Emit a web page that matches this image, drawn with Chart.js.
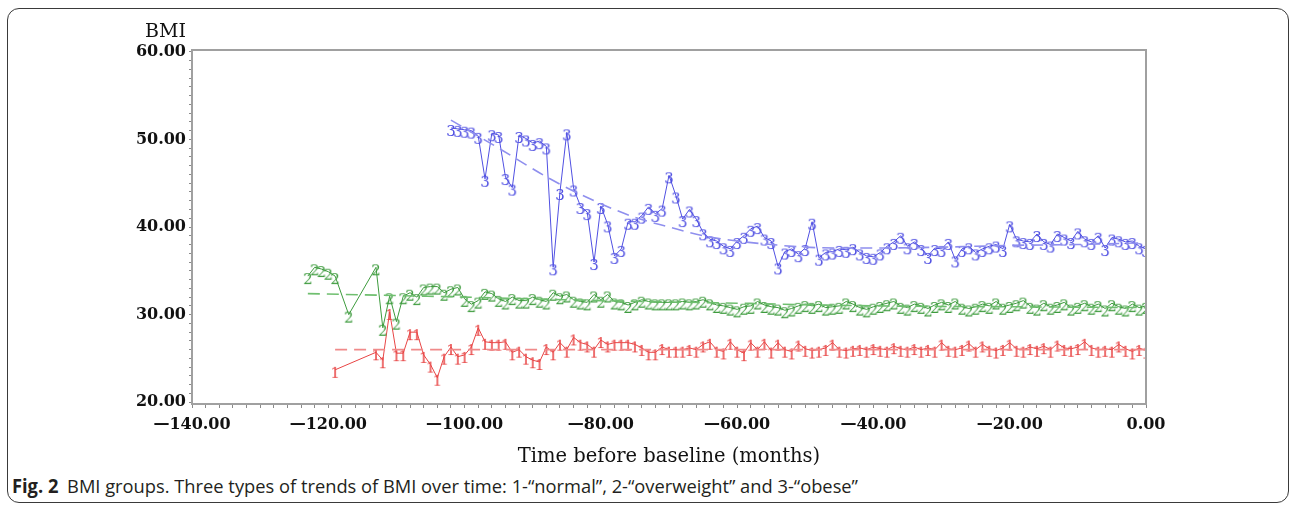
<!DOCTYPE html>
<html><head><meta charset="utf-8">
<script src="https://cdn.jsdelivr.net/npm/chart.js@4.4.1/dist/chart.umd.min.js"></script>
<style>
html,body{margin:0;padding:0;background:#fff;width:1290px;height:506px;overflow:hidden;}
#frame{position:absolute;left:7px;top:8px;width:1282px;height:495px;border:1.5px solid #3a3a3a;border-radius:12px;box-sizing:border-box;}
#wrap{position:absolute;left:0;top:0;width:1290px;height:470px;}
#cap{position:absolute;left:12px;top:473px;white-space:nowrap;font-family:"Open Sans",sans-serif;font-size:19px;color:#231f20;transform-origin:0 0;}
#cap b{font-weight:700;margin-right:9px;}
</style></head>
<body>
<div id="frame"></div>
<div id="wrap"><canvas id="c" width="1290" height="470"></canvas></div>
<div id="cap"><b>Fig. 2</b>BMI groups. Three types of trends of BMI over time: 1-“normal”, 2-“overweight” and 3-“obese”</div>
<script>
// ---- data ----
const obeseMonths = [-102,-101,-100,-99,-98,-97,-96,-95,-94,-93,-92,-91,-90,-89,-88,-87,-86,-85,-84,-83,-82,-81,-80,-79,-78,-77,-76,-75,-74,-73,-72,-71,-70,-69,-68,-67,-66,-65,-64,-63,-62,-61,-60,-59,-58,-57,-56,-55,-54,-53,-52,-51,-50,-49,-48,-47,-46,-45,-44,-43,-42,-41,-40,-39,-38,-37,-36,-35,-34,-33,-32,-31,-30,-29,-28,-27,-26,-25,-24,-23,-22,-21,-20,-19,-18,-17,-16,-15,-14,-13,-12,-11,-10,-9,-8,-7,-6,-5,-4,-3,-2,-1,0];
const obeseBMI = [51.3,51.2,51.1,51.0,50.4,45.5,50.7,50.5,45.7,44.5,50.5,50.1,49.6,49.8,49.2,35.4,44.0,50.8,44.4,42.4,41.7,36.0,42.4,40.3,36.7,37.5,40.6,40.6,41.3,42.3,41.5,42.1,45.9,43.6,40.9,42.0,40.9,39.4,38.6,38.4,37.8,37.5,38.4,39.0,39.8,40.1,38.8,38.4,35.5,37.2,37.5,36.9,37.6,40.6,36.5,37.1,37.2,37.5,37.4,37.7,37.1,36.7,36.6,37.1,37.8,38.3,39.0,37.8,38.3,37.6,36.7,37.6,37.5,38.3,36.3,37.5,37.8,37.1,37.5,37.8,38.0,37.5,40.3,38.6,38.4,38.3,39.2,38.3,38.0,39.2,38.8,38.4,39.5,38.6,38.3,39.0,37.6,38.8,38.6,38.3,38.4,37.8,37.5];

const overMonths = [-123,-122,-121,-120,-119,-117,-113,-112,-111,-110,-109,-108,-107,-106,-105,-104,-103,-102,-101,-100,-99,-98,-97,-96,-95,-94,-93,-92,-91,-90,-89,-88,-87,-86,-85,-84,-83,-82,-81,-80,-79,-78,-77,-76,-75,-74,-73,-72,-71,-70,-69,-68,-67,-66,-65,-64,-63,-62,-61,-60,-59,-58,-57,-56,-55,-54,-53,-52,-51,-50,-49,-48,-47,-46,-45,-44,-43,-42,-41,-40,-39,-38,-37,-36,-35,-34,-33,-32,-31,-30,-29,-28,-27,-26,-25,-24,-23,-22,-21,-20,-19,-18,-17,-16,-15,-14,-13,-12,-11,-10,-9,-8,-7,-6,-5,-4,-3,-2,-1,0];
const overBMI = [34.4,35.4,35.2,34.9,34.4,30.0,35.4,28.5,32.1,29.2,32.1,32.5,32.0,33.1,33.2,33.2,32.5,32.9,33.1,31.8,31.2,31.6,32.6,32.4,31.8,31.5,32.0,31.6,31.6,32.0,31.7,31.5,32.5,32.1,32.3,31.7,31.5,31.4,32.3,31.7,32.3,31.5,31.4,31.1,31.4,31.7,31.5,31.4,31.4,31.4,31.4,31.5,31.4,31.5,31.7,31.4,31.1,31.0,30.8,30.6,30.9,31.0,31.5,31.1,30.9,30.8,30.5,30.7,31.0,31.2,31.0,31.2,30.8,30.9,31.0,31.5,31.2,30.8,30.6,30.9,31.1,31.3,31.5,31.0,30.8,31.2,31.0,30.7,31.1,31.4,31.1,31.5,30.9,30.7,30.9,31.2,31.0,31.5,30.9,31.1,31.3,31.6,31.0,30.8,31.3,30.9,31.1,31.4,30.8,31.0,31.3,30.9,31.2,30.7,31.3,30.9,30.7,31.2,30.8,31.0];

const normalMonths = [-119,-113,-112,-111,-110,-109,-108,-107,-106,-105,-104,-103,-102,-101,-100,-99,-98,-97,-96,-95,-94,-93,-92,-91,-90,-89,-88,-87,-86,-85,-84,-83,-82,-81,-80,-79,-78,-77,-76,-75,-74,-73,-72,-71,-70,-69,-68,-67,-66,-65,-64,-63,-62,-61,-60,-59,-58,-57,-56,-55,-54,-53,-52,-51,-50,-49,-48,-47,-46,-45,-44,-43,-42,-41,-40,-39,-38,-37,-36,-35,-34,-33,-32,-31,-30,-29,-28,-27,-26,-25,-24,-23,-22,-21,-20,-19,-18,-17,-16,-15,-14,-13,-12,-11,-10,-9,-8,-7,-6,-5,-4,-3,-2,-1,0];
const normalBMI = [23.7,25.7,24.8,30.3,25.6,25.6,28.0,28.0,25.4,24.3,22.8,25.2,26.3,25.2,25.4,26.3,28.5,26.9,26.8,26.8,26.9,25.7,26.0,25.2,24.8,24.6,26.3,25.7,26.8,26.0,27.4,26.8,26.6,26.0,27.1,26.6,26.8,26.8,26.8,26.6,26.2,25.7,25.7,26.3,26.0,26.0,26.0,26.2,26.0,26.6,26.9,26.0,25.8,26.9,26.0,25.6,26.8,26.0,26.9,25.9,26.8,26.0,25.8,26.7,26.1,25.9,26.0,26.2,26.8,26.0,25.9,26.1,26.2,26.0,26.3,26.1,26.0,26.4,26.1,26.0,26.3,26.0,26.2,26.0,26.8,26.1,26.0,26.2,26.7,26.0,26.6,26.1,25.9,26.2,26.8,26.1,26.0,26.3,26.1,26.4,26.0,26.7,26.2,26.1,26.3,26.9,26.2,26.0,26.1,26.0,26.6,26.1,25.8,26.2,25.9];

// fitted trend lines
const obeseTrendMonths = [-102,-95,-87,-81,-75,-70,-65,-60,-55,-50,-45,-40,-30,-20,-10,0];
const obeseTrendBMI    = [52.2,49.0,45.3,43.0,41.1,40.0,39.0,38.4,38.0,37.7,37.6,37.6,37.7,37.9,38.0,38.2];
const overTrendMonths  = [-123,-100,-80,-60,-40,-20,0];
const overTrendBMI     = [32.4,32.0,31.6,31.3,31.0,30.9,30.8];
const normalTrendMonths = [-119,-60,0];
const normalTrendBMI    = [26.0,26.0,26.0];

// axis ticks
const xMajorTicks = [-140,-120,-100,-80,-60,-40,-20,0];
const xMinorStep = 2;
const yMajorTicks = [20,30,40,50,60];
const yMinorStep = 1;

// ---- helpers ----
function pts(xs, ys){ return xs.map((x,i)=>({x:x, y:ys[i]})); }
function glyph(ch, color){
  const c = document.createElement('canvas'); c.width = 12; c.height = 30;
  const g = c.getContext('2d');
  g.fillStyle = color; g.font = '15px "DejaVu Serif"';
  g.textAlign = 'center'; g.textBaseline = 'top';
  g.fillText(ch, 6, 12);
  return c;
}
const xTickVals = []; for (let v = xMajorTicks[0]; v <= xMajorTicks[xMajorTicks.length-1]; v += xMinorStep) xTickVals.push(v);
const yTickVals = []; for (let v = yMajorTicks[0]; v <= yMajorTicks[yMajorTicks.length-1]; v += yMinorStep) yTickVals.push(v);

const BLUE='#5050e2', BLUE_D='#8f8fee', GREEN='#3d9b3d', GREEN_D='#6fbf6f', RED='#e84545', RED_D='#f08a8a';

function lineDs(xs, ys, col, ch){
  return {data: pts(xs, ys), borderColor: col, backgroundColor: col, borderWidth: 1,
    pointStyle: glyph(ch, col), pointRadius: 4, tension: 0, clip: 0};
}
function trendDs(xs, ys, col){
  return {data: pts(xs, ys), borderColor: col, borderWidth: 1.6, borderDash: [12,7],
    pointRadius: 0, cubicInterpolationMode: 'monotone', clip: 0};
}

const framePlugin = {
  id: 'frame',
  afterDatasetsDraw(chart){
    const {ctx, chartArea: a} = chart;
    ctx.save(); ctx.strokeStyle = '#a0a0a0'; ctx.lineWidth = 2;
    ctx.strokeRect(a.left, a.top, a.right - a.left, a.bottom - a.top);
    ctx.restore();
  },
  afterDraw(chart){
    const {ctx} = chart; const ys = chart.scales.y;
    ctx.save(); ctx.fillStyle = '#111'; ctx.font = '19px "DejaVu Serif"';
    ctx.textAlign = 'right'; ctx.textBaseline = 'middle';
    ctx.fillText('BMI', ys.right - 6, chart.chartArea.top - 18);
    ctx.restore();
  }
};

function fmtX(v){ return v < 0 ? '—' + Math.abs(v).toFixed(2) : v.toFixed(2); }

new Chart(document.getElementById('c'), {
  type: 'line',
  data: { datasets: [
    trendDs(obeseTrendMonths, obeseTrendBMI, BLUE_D),
    trendDs(overTrendMonths, overTrendBMI, GREEN_D),
    trendDs(normalTrendMonths, normalTrendBMI, RED_D),
    lineDs(obeseMonths, obeseBMI, BLUE, '3'),
    lineDs(overMonths, overBMI, GREEN, '2'),
    lineDs(normalMonths, normalBMI, RED, '1')
  ]},
  options: {
    responsive: false, animation: false, devicePixelRatio: 1,
    layout: { padding: { left: 0, right: 144, top: 50, bottom: 0 } },
    plugins: { legend: { display: false }, tooltip: { enabled: false } },
    scales: {
      x: {
        type: 'linear', position: 'bottom', min: -140, max: 0,
        afterBuildTicks: s => { s.ticks = xTickVals.map(v => ({value: v})); },
        afterFit: s => { s.height = 66; },
        ticks: { autoSkip: false, maxRotation: 0, minRotation: 0, padding: 7,
          color: '#111', font: { family: '"DejaVu Serif"', size: 16, weight: 'bold' },
          callback: v => xMajorTicks.includes(v) ? fmtX(v) : '' },
        grid: { drawOnChartArea: false, drawTicks: true, tickLength: 4, color: '#8a8a8a', lineWidth: 1 },
        border: { display: false },
        title: { display: true, text: 'Time before baseline (months)', color: '#111',
          font: { family: '"DejaVu Serif"', size: 19.5 }, padding: { top: 0, bottom: 1 } }
      },
      y: {
        type: 'linear', position: 'left', min: 19.8, max: 60.2,
        afterBuildTicks: s => { s.ticks = yTickVals.map(v => ({value: v})); },
        afterFit: s => { s.width = 192; },
        ticks: { autoSkip: false, padding: 3, color: '#111',
          font: { family: '"DejaVu Serif"', size: 16, weight: 'bold' },
          callback: v => yMajorTicks.includes(v) ? v.toFixed(2) : '' },
        grid: { drawOnChartArea: false, drawTicks: true, tickLength: 3, color: '#8a8a8a', lineWidth: 1 },
        border: { display: false }
      }
    }
  },
  plugins: [framePlugin]
});

const cap = document.getElementById('cap');
const w = cap.getBoundingClientRect().width;
cap.style.transform = 'scaleX(' + (846 / w) + ')';
</script>
</body></html>
